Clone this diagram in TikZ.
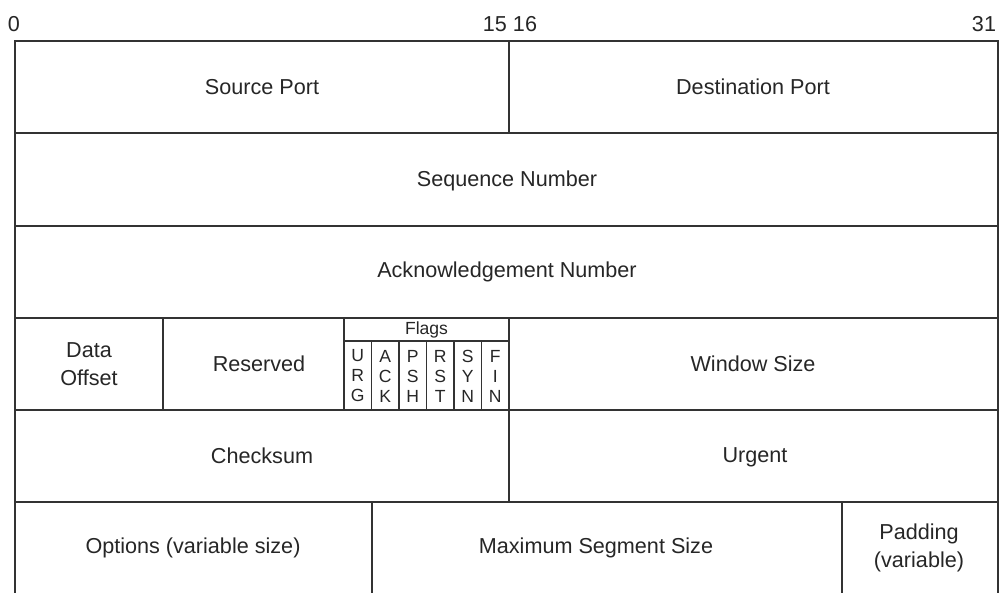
\documentclass[tikz,border=0pt]{standalone}
\usepackage{fontspec}
\setmainfont{Liberation Sans}

\begin{document}
\begin{tikzpicture}[
    x=0.02cm, y=-0.02cm,
    font=\fontsize{12.3}{15.6}\selectfont,
    text=black!85,
    rule/.style={draw=black!80,line width=1.1pt},
    field/.style={align=center,inner sep=0pt},
    flag/.style={align=center,inner sep=0pt,font=\fontsize{10}{11.4}\selectfont}
  ]
    \path[use as bounding box,clip] (0,0) rectangle (1000,592);
    % bit numbers
    \node[field] (bit0) at (14,24) {0};
    \node[field] (bit1516) at (510,24) {15 16};
    \node[field] (bit31) at (984,24) {31};
    % frame, rows, columns
    \draw[rule] (15,41) rectangle (998,594);
    \foreach \y in {133,226,318,410,502}
      \draw[rule] (15,\y) -- (998,\y);
    \draw[rule] (509,41) -- (509,133);
    \draw[rule] (163,318) -- (163,410);
    \draw[rule] (344,318) -- (344,410);
    \draw[rule] (509,318) -- (509,502);
    \draw[rule] (372,502) -- (372,594);
    \draw[rule] (842,502) -- (842,594);
    % flag cells
    \draw[rule] (344,341) -- (509,341);
    \foreach \i in {1,...,5}
      \draw[rule] (344+\i*27.5,341) -- (344+\i*27.5,410);
    \node[flag] (flags) at (426.5,329.5) {Flags};
    \foreach \a/\b/\c [count=\i from 0] in {U/R/G,A/C/K,P/S/H,R/S/T,S/Y/N,F/I/N}
      \node[flag] (flag\i) at (357.75+\i*27.5,376) {\a\\\b\\\c};
    % field names
    \node[field] (srcport) at (262,87) {Source Port};
    \node[field] (dstport) at (753,87) {Destination Port};
    \node[field] (seq) at (507,181) {Sequence Number};
    \node[field] (ack) at (507,272) {Acknowledgement Number};
    \node[field] (offset) at (89,364) {Data\\Offset};
    \node[field] (reserved) at (259,364) {Reserved};
    \node[field] (window) at (753,364) {Window Size};
    \node[field] (checksum) at (262,456) {Checksum};
    \node[field] (urgent) at (755,457) {Urgent};
    \node[field] (options) at (193,548) {Options (variable size)};
    \node[field] (mss) at (596,548) {Maximum Segment Size};
    \node[field] (padding) at (919,548) {Padding\\(variable)};
  \end{tikzpicture}
\end{document}
